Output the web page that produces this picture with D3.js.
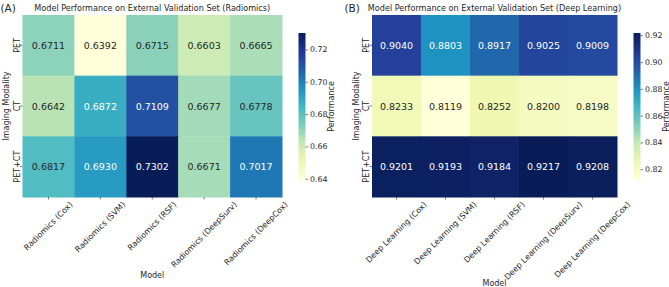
<!DOCTYPE html>
<html><head><meta charset="utf-8">
<script src="https://cdn.jsdelivr.net/npm/d3@7"></script>
<style>body{margin:0;background:#fff}svg{display:block;font-family:"DejaVu Sans",sans-serif}</style>
</head><body>
<svg id="chart" width="669" height="287"></svg>
<script>
const modalities = ["PET", "CT", "PET+CT"];
const radiomicsModels = ["Radiomics (Cox)", "Radiomics (SVM)", "Radiomics (RSF)", "Radiomics (DeepSurv)", "Radiomics (DeepCox)"];
const deepModels = ["Deep Learning (Cox)", "Deep Learning (SVM)", "Deep Learning (RSF)", "Deep Learning (DeepSurv)", "Deep Learning (DeepCox)"];
const radiomicsPET = [0.6711, 0.6392, 0.6715, 0.6603, 0.6665];
const radiomicsCT = [0.6642, 0.6872, 0.7109, 0.6677, 0.6778];
const radiomicsPETCT = [0.6817, 0.6930, 0.7302, 0.6671, 0.7017];
const deepPET = [0.9040, 0.8803, 0.8917, 0.9025, 0.9009];
const deepCT = [0.8233, 0.8119, 0.8252, 0.8200, 0.8198];
const deepPETCT = [0.9201, 0.9193, 0.9184, 0.9217, 0.9208];
const ticksA = [0.64, 0.66, 0.68, 0.70, 0.72];
const ticksB = [0.82, 0.84, 0.86, 0.88, 0.90, 0.92];
const titleA = "Model Performance on External Validation Set (Radiomics)";
const titleB = "Model Performance on External Validation Set (Deep Learning)";

const ylgnbu = ["#ffffd9","#edf8b1","#c7e9b4","#7fcdbb","#41b6c4","#1d91c0","#225ea8","#253494","#081d58"];
const cmap = d3.piecewise(d3.interpolateRgb, ylgnbu);
const svg = d3.select("#chart");
const TXT = "#262626";
const FS = 8;

function lum(c) {
  const r = d3.rgb(c);
  const f = v => { v /= 255; return v <= 0.03928 ? v / 12.92 : Math.pow((v + 0.055) / 1.055, 2.4); };
  return 0.2126 * f(r.r) + 0.7152 * f(r.g) + 0.0722 * f(r.b);
}

function panel(o) {
  const g = svg.append("g");
  const rowsData = o.rows;
  const all = rowsData.flat();
  const vmin = d3.min(all), vmax = d3.max(all);
  const color = d3.scaleSequential(cmap).domain([vmin, vmax]);
  const x = d3.scaleBand().domain(o.models).range([o.x0, o.x1]);
  const y = d3.scaleBand().domain(modalities).range([o.y0, o.y1]);
  const cells = [];
  rowsData.forEach((r, i) => r.forEach((v, j) => cells.push({row: modalities[i], col: o.models[j], v})));
  g.selectAll("rect.cell").data(cells).join("rect")
    .attr("x", d => x(d.col)).attr("y", d => y(d.row))
    .attr("width", x.bandwidth() + 0.5).attr("height", y.bandwidth() + 0.5)
    .attr("fill", d => color(d.v));
  g.selectAll("text.ann").data(cells).join("text")
    .attr("x", d => x(d.col) + x.bandwidth() / 2).attr("y", d => y(d.row) + y.bandwidth() / 2)
    .attr("text-anchor", "middle").attr("dominant-baseline", "central")
    .attr("font-size", 9.5)
    .attr("fill", d => lum(color(d.v)) > 0.408 ? TXT : "#ffffff")
    .text(d => d.v.toFixed(4));
  // x ticks
  o.models.forEach(m => {
    const cx = x(m) + x.bandwidth() / 2;
    g.append("line").attr("x1", cx).attr("x2", cx).attr("y1", o.y1).attr("y2", o.y1 + 2.5).attr("stroke", TXT).attr("stroke-width", 0.6);
    const t = g.append("text").attr("font-size", FS).attr("fill", TXT)
      .attr("text-anchor", "middle").attr("dominant-baseline", "central").text(m);
    const L = t.node().getComputedTextLength();
    const h = FS * 1.0;
    const cy = o.y1 + 3.5 + (L + h) / (2 * Math.SQRT2);
    t.attr("transform", `translate(${cx},${cy}) rotate(-45)`);
  });
  // y ticks
  modalities.forEach(m => {
    const cy = y(m) + y.bandwidth() / 2;
    g.append("line").attr("x1", o.x0 - 2.5).attr("x2", o.x0).attr("y1", cy).attr("y2", cy).attr("stroke", TXT).attr("stroke-width", 0.6);
    g.append("text").attr("font-size", FS).attr("fill", TXT)
      .attr("text-anchor", "middle")
      .attr("transform", `translate(${o.x0 - 3},${cy}) rotate(-90)`).text(m);
  });
  g.append("text").attr("font-size", FS).attr("fill", TXT).attr("text-anchor", "middle")
    .attr("transform", `translate(${o.x0 - 13.5},${(o.y0 + o.y1) / 2}) rotate(-90)`).text("Imaging Modality");
  g.append("text").attr("font-size", FS).attr("fill", TXT).attr("text-anchor", "middle")
    .attr("x", (o.x0 + o.x1) / 2).attr("y", o.modelY).text("Model");
  g.append("text").attr("font-size", 8.1).attr("fill", TXT).attr("text-anchor", "middle")
    .attr("x", (o.x0 + o.x1) / 2).attr("y", 11).text(o.title);
  g.append("text").attr("font-size", 10.5).attr("fill", TXT)
    .attr("x", o.lx).attr("y", 12).text(o.letter);
  // colorbar
  const cs = d3.scaleLinear().domain([vmin, vmax]).range([o.cy1, o.cy0]);
  const gid = "grad" + o.letter.replace(/\W/g, "");
  const grad = svg.append("defs").append("linearGradient").attr("id", gid)
    .attr("x1", 0).attr("y1", 1).attr("x2", 0).attr("y2", 0);
  d3.range(0, 1.0001, 0.05).forEach(t => grad.append("stop").attr("offset", t).attr("stop-color", cmap(t)));
  g.append("rect").attr("x", o.cx0).attr("y", o.cy0).attr("width", o.cw).attr("height", o.cy1 - o.cy0)
    .attr("fill", `url(#${gid})`);
  const ax = g.append("g").attr("transform", `translate(${o.cx0 + o.cw},0)`)
    .call(d3.axisRight(cs).tickValues(o.ticks).tickFormat(d3.format(".2f")).tickSize(2.5).tickPadding(2));
  ax.select(".domain").remove();
  ax.selectAll("line").attr("stroke", TXT).attr("stroke-width", 0.6);
  ax.selectAll("text").attr("font-size", 7.8).attr("fill", TXT).attr("font-family", "DejaVu Sans");
  g.append("text").attr("font-size", FS).attr("fill", TXT).attr("text-anchor", "middle")
    .attr("transform", `translate(${o.cx0 + o.cw + 28},${(o.cy0 + o.cy1) / 2}) rotate(-90)`).text("Performance");
}

panel({rows: [radiomicsPET, radiomicsCT, radiomicsPETCT], models: radiomicsModels, title: titleA, letter: "(A)", lx: 0.5,
  x0: 22.5, x1: 282, y0: 15, y1: 197, cx0: 298.5, cw: 7, cy0: 33, cy1: 180, ticks: ticksA, modelY: 278});
panel({rows: [deepPET, deepCT, deepPETCT], models: deepModels, title: titleB, letter: "(B)", lx: 344.5,
  x0: 372, x1: 617, y0: 15, y1: 197, cx0: 633.5, cw: 7, cy0: 33, cy1: 180, ticks: ticksB, modelY: 286});
</script>
</body></html>
